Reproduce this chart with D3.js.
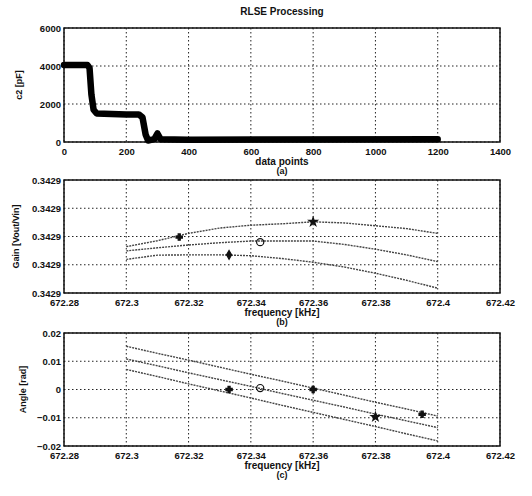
<!DOCTYPE html>
<html>
<head>
<meta charset="utf-8">
<script src="https://cdn.jsdelivr.net/npm/d3@7"></script>
<style>
  body { margin: 0; background: #fff; }
  text { font-family: "Liberation Sans", Arial, sans-serif; font-weight: bold; fill: #111; }
</style>
</head>
<body>
<svg id="chart" width="532" height="496"></svg>
<script>
// (a) RLSE processing: c2 estimate against data point index
var ptIndex = [0, 75, 82, 88, 95, 105, 200, 240, 252, 262, 270, 290, 300, 310, 400, 1200];
var ptC2    = [4050, 4050, 3900, 2500, 1700, 1500, 1450, 1450, 1300, 400, 80, 150, 450, 150, 120, 150];
var aXTicks = [0, 200, 400, 600, 800, 1000, 1200, 1400];
var aYTicks = [0, 2000, 4000, 6000];

// (b) gain and (c) angle against frequency
var freq = [672.30, 672.31, 672.32, 672.33, 672.34, 672.35, 672.36, 672.37, 672.38, 672.39, 672.40];
var gainHigh = [0.3428964, 0.3428985, 0.3429011, 0.342903, 0.342904, 0.3429045, 0.3429052, 0.3429048, 0.3429038, 0.3429028, 0.3429011];
var gainMid  = [0.3428949, 0.342896, 0.342897, 0.3428978, 0.3428984, 0.3428984, 0.3428984, 0.3428972, 0.3428955, 0.3428935, 0.3428911];
var gainLow  = [0.3428919, 0.3428934, 0.3428935, 0.3428935, 0.3428932, 0.3428922, 0.3428909, 0.3428892, 0.342887, 0.3428845, 0.3428817];
var angHigh = [0.0153, 0.0128, 0.0104, 0.0079, 0.0054, 0.0030, 0.0005, -0.0020, -0.0045, -0.0069, -0.0094];
var angMid  = [0.0108, 0.0084, 0.0059, 0.0035, 0.0011, -0.0014, -0.0038, -0.0062, -0.0087, -0.0111, -0.0135];
var angLow  = [0.0071, 0.0046, 0.0020, -0.0005, -0.0030, -0.0056, -0.0081, -0.0106, -0.0131, -0.0157, -0.0182];
var fTicks = [672.28, 672.3, 672.32, 672.34, 672.36, 672.38, 672.4, 672.42];
var gainTicks = [0.34288, 0.34289, 0.3429, 0.34291, 0.34292];
var angTicks = [-0.02, -0.01, 0, 0.01, 0.02];

// marker points sitting on the curves
var gainMarkF = [672.317, 672.333, 672.343, 672.36];
var gainMarkV = [0.3428998, 0.3428935, 0.342898, 0.3429052];
var gainMarkS = ["plus", "diamond", "circle", "star"];
var angMarkF = [672.333, 672.343, 672.36, 672.38, 672.395];
var angMarkV = [0.0, 0.0005, 0.0, -0.0097, -0.0088];
var angMarkS = ["plus", "circle", "plus", "star", "plus"];

var svg = d3.select("#chart");
var left = 64, right = 500;

function panel(opt) {
  var g = svg.append("g");
  var x = d3.scaleLinear().domain(opt.xDomain).range([left, right]);
  var y = d3.scaleLinear().domain(opt.yDomain).range([opt.bottom, opt.top]);

  // dotted grid
  g.selectAll(".gx").data(opt.xTicks).enter().append("line")
    .attr("x1", d => x(d)).attr("x2", d => x(d))
    .attr("y1", opt.top).attr("y2", opt.bottom)
    .attr("stroke", "#222").attr("stroke-width", 1).attr("stroke-dasharray", "1.5,2.5");
  g.selectAll(".gy").data(opt.yTicks).enter().append("line")
    .attr("x1", left).attr("x2", right)
    .attr("y1", d => y(d)).attr("y2", d => y(d))
    .attr("stroke", "#222").attr("stroke-width", 1).attr("stroke-dasharray", "1.5,2.5");

  var ax = g.append("g").attr("transform", "translate(0," + opt.bottom + ")")
    .call(d3.axisBottom(x).tickValues(opt.xTicks).tickSize(0).tickPadding(6).tickFormat(opt.xFormat));
  var ay = g.append("g").attr("transform", "translate(" + left + ",0)")
    .call(d3.axisLeft(y).tickValues(opt.yTicks).tickSize(0).tickPadding(3).tickFormat(opt.yFormat));
  [ax, ay].forEach(function(a) {
    a.select(".domain").remove();
    a.selectAll("text").attr("font-size", 9.5).attr("font-family", "Liberation Sans").attr("font-weight", "bold").attr("fill", "#111");
  });

  g.append("rect").attr("x", left).attr("y", opt.top)
    .attr("width", right - left).attr("height", opt.bottom - opt.top)
    .attr("fill", "none").attr("stroke", "#111").attr("stroke-width", 1.5);

  g.append("text").attr("x", 282).attr("y", opt.bottom + 23)
    .attr("text-anchor", "middle").attr("font-size", 10).text(opt.xLabel);
  g.append("text").attr("x", 282).attr("y", opt.bottom + 32)
    .attr("text-anchor", "middle").attr("font-size", 9).text(opt.tag);
  g.append("text")
    .attr("transform", "translate(" + opt.yLabelX + "," + ((opt.top + opt.bottom) / 2) + ") rotate(-90)")
    .attr("text-anchor", "middle").attr("font-size", 9).text(opt.yLabel);

  return {g: g, x: x, y: y};
}

// (a)
var pa = panel({
  top: 28, bottom: 142, xDomain: [0, 1400], yDomain: [0, 6000],
  xTicks: aXTicks, yTicks: aYTicks, xFormat: d3.format("d"), yFormat: d3.format("d"),
  xLabel: "data points", tag: "(a)", yLabel: "c2 [pF]", yLabelX: 22
});
pa.g.append("path")
  .datum(d3.zip(ptIndex, ptC2))
  .attr("fill", "none").attr("stroke", "#000").attr("stroke-width", 6.5)
  .attr("stroke-linejoin", "round").attr("stroke-linecap", "round")
  .attr("d", d3.line().x(d => pa.x(d[0])).y(d => pa.y(d[1])));

svg.append("text").attr("x", 282).attr("y", 15).attr("text-anchor", "middle")
  .attr("font-size", 10).text("RLSE Processing");

function curves(p, series) {
  var line = d3.line().x(d => p.x(d[0])).y(d => p.y(d[1]));
  series.forEach(function(s) {
    p.g.append("path").datum(d3.zip(freq, s))
      .attr("fill", "none").attr("stroke", "#444").attr("stroke-width", 1.4)
      .attr("stroke-dasharray", "2,1").attr("d", line);
  });
}

function markers(p, fs, vs, shapes) {
  var sym = {plus: d3.symbolCross, diamond: d3.symbolDiamond, circle: d3.symbolCircle, star: d3.symbolStar};
  fs.forEach(function(f, i) {
    p.g.append("path")
      .attr("transform", "translate(" + p.x(f) + "," + p.y(vs[i]) + ")")
      .attr("d", d3.symbol().type(sym[shapes[i]]).size(shapes[i] === "circle" ? 40 : 22))
      .attr("fill", shapes[i] === "circle" ? "none" : "#111")
      .attr("stroke", "#111").attr("stroke-width", 1.2);
  });
}

// (b)
var pb = panel({
  top: 180, bottom: 293, xDomain: [672.28, 672.42], yDomain: [0.34288, 0.34292],
  xTicks: fTicks, yTicks: gainTicks, xFormat: d3.format(""), yFormat: d3.format(".4f"),
  xLabel: "frequency [kHz]", tag: "(b)", yLabel: "Gain [Vout/Vin]", yLabelX: 19
});
curves(pb, [gainHigh, gainMid, gainLow]);
markers(pb, gainMarkF, gainMarkV, gainMarkS);

// (c)
var pc = panel({
  top: 333, bottom: 446, xDomain: [672.28, 672.42], yDomain: [-0.02, 0.02],
  xTicks: fTicks, yTicks: angTicks, xFormat: d3.format(""), yFormat: d3.format(""),
  xLabel: "frequency [kHz]", tag: "(c)", yLabel: "Angle [rad]", yLabelX: 26
});
curves(pc, [angHigh, angMid, angLow]);
markers(pc, angMarkF, angMarkV, angMarkS);
</script>
</body>
</html>
